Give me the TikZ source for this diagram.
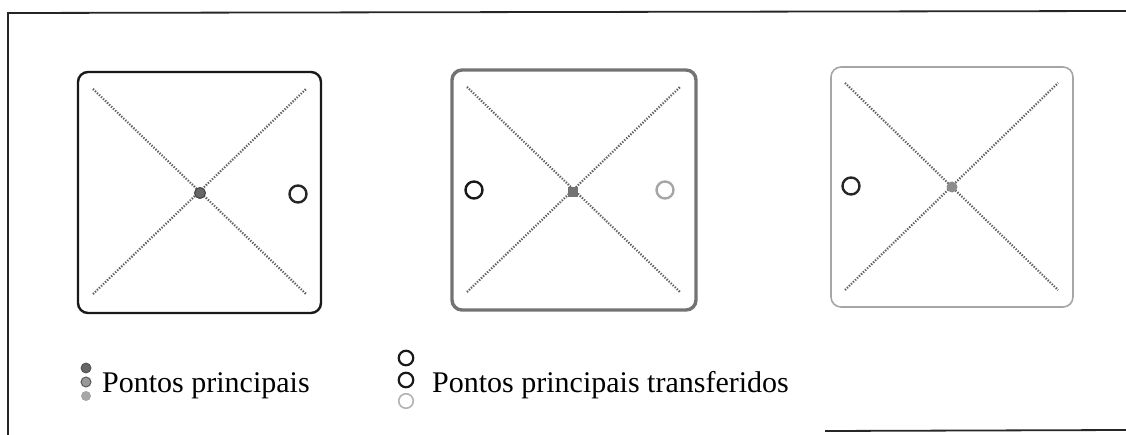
\documentclass[tikz,border=0pt]{standalone}
\usepackage{fontspec}
\setmainfont{Liberation Serif}
\begin{document}
\begin{tikzpicture}[x=1pt,y=-1pt,
  frameline/.style={line width=1.8pt,black!85},
  diag/.style={line width=2.2pt,black!62,dash pattern=on 1.3pt off 1.5pt},
  boxA/.style={line width=2.4pt,black!90,rounded corners=10pt},
  boxB/.style={line width=3.4pt,black!55,rounded corners=10pt},
  boxC/.style={line width=1.6pt,black!35,rounded corners=10pt},
  ring/.style={circle,draw,line width=2.4pt,minimum size=17pt,inner sep=0pt},
  dot/.style={circle,minimum size=11pt,inner sep=0pt},
  label/.style={anchor=base west,inner sep=0pt,font=\fontsize{30}{31}\selectfont}]
\useasboundingbox (0,0) rectangle (1126,435);
% outer frame
\draw[frameline] (8,435) -- (8,13) -- (1126,11);
\draw[frameline] (825,431) -- (1126,430);
% box 1
\draw[boxA] (78,72) rectangle (321,313);
\draw[diag] (93,89) -- (306,294);
\draw[diag] (93,294) -- (306,89);
\node[dot,fill=black!60,draw=black!75,line width=1pt] (c1) at (200,193) {};
\node[ring,draw=black!85] (r1) at (298,194) {};
% box 2
\draw[boxB] (452,70) rectangle (696,310);
\draw[diag] (467,87) -- (680,292);
\draw[diag] (467,292) -- (680,87);
\node[dot,rectangle,minimum size=10pt,fill=black!55] (c2) at (573,192) {};
\node[ring,draw=black!90] (r2a) at (474,190) {};
\node[ring,draw=black!35] (r2b) at (665,190) {};
% box 3
\draw[boxC] (831,67) rectangle (1073,307);
\draw[diag] (845,83) -- (1058,290);
\draw[diag] (845,290) -- (1058,83);
\node[dot,fill=black!45] (c3) at (952,187) {};
\node[ring,draw=black!85] (r3) at (851,186) {};
% legend 1
\node[dot,minimum size=10pt,fill=black!60,draw=black!70,line width=0.8pt] (l1a) at (86,368) {};
\node[dot,minimum size=10pt,fill=black!40,draw=black!65,line width=1pt] (l1b) at (86,382) {};
\node[dot,minimum size=10pt,fill=black!35] (l1c) at (86,396) {};
\node[label] (t1) at (102,392) {Pontos principais};
% legend 2
\node[ring,minimum size=14.5pt,line width=2.2pt,draw=black!90] (l2a) at (406,358) {};
\node[ring,minimum size=14.5pt,line width=2.2pt,draw=black!90] (l2b) at (406,380) {};
\node[ring,minimum size=14.5pt,line width=1.6pt,draw=black!30] (l2c) at (406,401) {};
\node[label] (t2) at (432,392) {Pontos principais transferidos};
\end{tikzpicture}
\end{document}
